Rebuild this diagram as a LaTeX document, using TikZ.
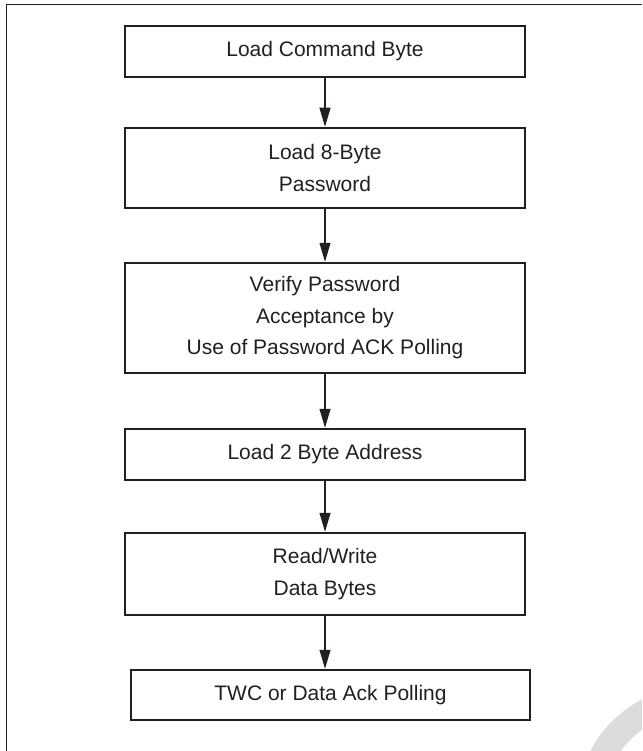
\documentclass[tikz,border=0pt]{standalone}
\usepackage{fontspec}
\setmainfont{Liberation Sans}
\usetikzlibrary{arrows.meta}
\definecolor{ink}{HTML}{231F20}
\definecolor{wm}{HTML}{DCDCDD}
\tikzset{
  stepbox/.style={draw=ink, line width=2.5pt, rectangle, inner sep=0pt, minimum width=400pt,
    align=center, text=ink, font=\fontsize{21}{31.5}\selectfont},
  flow/.style={draw=ink, line width=1.1pt, -{Triangle[length=19pt,width=11pt]}},
}
\begin{document}
\begin{tikzpicture}[x=1pt,y=-1pt]
\useasboundingbox (0,0) rectangle (642,751);
\begin{scope}
\clip (0,0) rectangle (642,751);
\draw[wm, line width=26pt] (697,806) circle (107);
\end{scope}
\draw[ink, line width=1pt] (6.5,751) -- (6.5,4.8) -- (642,4.8);
\node[stepbox, minimum height=51pt] (b1) at (325,51.5) {Load Command Byte};
\node[stepbox, minimum height=80pt] (b2) at (325,168) {Load 8-Byte\\Password};
\node[stepbox, minimum height=110pt] (b3) at (325,318) {Verify Password\\Acceptance by\\Use of Password ACK Polling};
\node[stepbox, minimum height=51pt] (b4) at (325,454.5) {Load 2 Byte Address};
\node[stepbox, minimum height=82pt] (b5) at (325,574) {Read/Write\\Data Bytes};
\node[stepbox, minimum height=50pt, minimum width=399pt] (b6) at (330.5,695) {TWC or Data Ack Polling};
\draw[flow] (b1.south) -- (b2.north);
\draw[flow] (b2.south) -- (b3.north);
\draw[flow] (b3.south) -- (b4.north);
\draw[flow] (b4.south) -- (b5.north);
\draw[flow] (b5.south) -- (b5.south |- b6.north);
\end{tikzpicture}
\end{document}
